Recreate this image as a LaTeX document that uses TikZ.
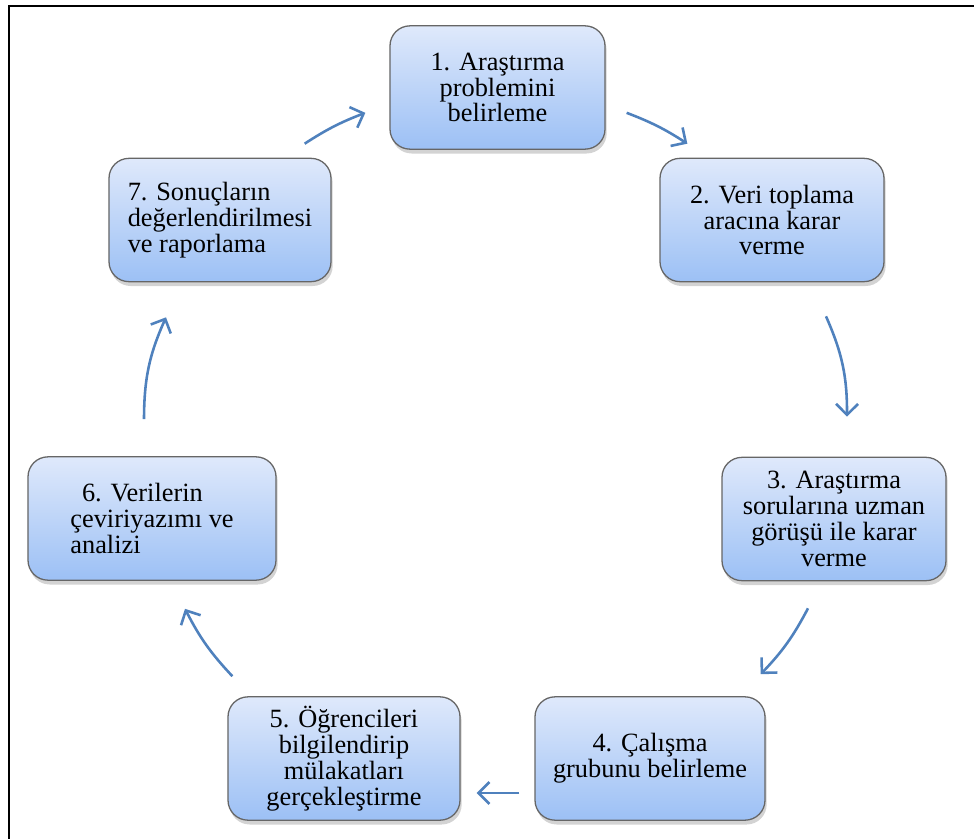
\documentclass[tikz,border=0pt]{standalone}
\usepackage{fontspec}
\setmainfont{Liberation Serif}
\usetikzlibrary{positioning,arrows.meta,shadows}
\definecolor{kutuust}{RGB}{223,233,251}
\definecolor{kutualt}{RGB}{156,192,245}
\definecolor{okmavi}{RGB}{79,129,189}

\begin{document}
\begin{tikzpicture}[x=0.03cm, y=0.03cm, -{Straight Barb[length=0.33cm, width=0.66cm]}, semithick,
               state/.style ={rectangle, rounded corners=0.6cm, top color=kutuust, bottom color=kutualt,
               draw=black!60, line width=1.1pt, text=black, minimum height=3.7cm, align=center,
               font=\fontsize{22.5}{22}\selectfont,
               drop shadow={shadow xshift=0.05cm, shadow yshift=-0.13cm, opacity=0.35}},
               ok/.style ={draw=okmavi, line width=2.2pt}]

           \useasboundingbox (0,0) rectangle (974,-839);
           \draw[-, line width=2.4pt] (9,-839) |- (974,-6);

           % adimlar (saat yonunde)
           \node[state, minimum width=6.45cm] (n1) at (497.5,-87.5) {1. Araştırma\\problemini\\belirleme};
           \node[state, minimum width=6.72cm] (n2) at (772,-220) {2. Veri toplama\\aracına karar\\verme};
           \node[state, minimum width=6.72cm] (n3) at (834,-519) {3. Araştırma\\sorularına uzman\\görüşü ile karar\\verme};
           \node[state, minimum width=6.9cm] (n4) at (650,-758.5) {4. Çalışma\\grubunu belirleme};
           \node[state, minimum width=6.96cm] (n5) at (344,-758.5) {5. Öğrencileri\\bilgilendirip\\mülakatları\\gerçekleştirme};
           \node[state, minimum width=7.44cm, align=left] (n6) at (152,-518.5) {\hspace{0.35cm}6. Verilerin\\çeviriyazımı ve\\analizi};
           \node[state, minimum width=6.66cm, align=left] (n7) at (220,-220) {7. Sonuçların\\değerlendirilmesi\\ve raporlama};

           \path ([shift={(21,37)}]n1.south east) edge[ok, bend left=6] ([shift={(28,14)}]n2.north west);
           \path ([shift={(54,-34)}]n2.south) edge[ok, bend left=12] ([shift={(13,40)}]n3.north);
           \path ([shift={(-26,-27)}]n3.south) edge[ok, bend left=8] ([shift={(-5,22)}]n4.north east);
           \path ([shift={(-15,-34.5)}]n4.west) edge[ok] ([shift={(16,-34.5)}]n5.east);
           \path ([shift={(5,20)}]n5.north west) edge[ok, bend left=8] ([shift={(33,-28)}]n6.south);
           \path ([shift={(-8,37)}]n6.north) edge[ok, bend left=12] ([shift={(-54,-35)}]n7.south);
           \path ([shift={(-27,14)}]n7.north east) edge[ok, bend left=6] ([shift={(-24,37)}]n1.south west);

       \end{tikzpicture}
\end{document}
